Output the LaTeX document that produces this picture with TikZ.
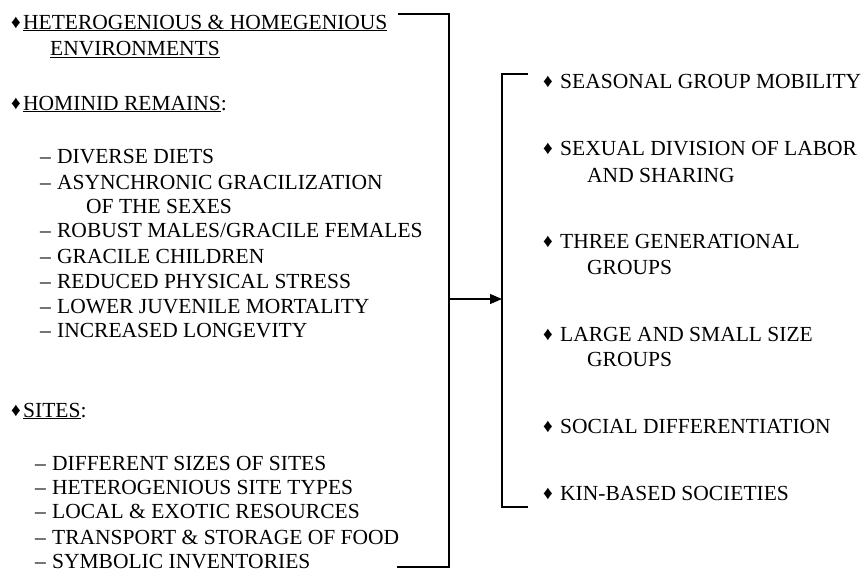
\documentclass[tikz,border=0pt]{standalone}
\usepackage{fontspec}
\setmainfont{Liberation Serif}
\usetikzlibrary{arrows.meta}
\newcommand{\dmd}{\makebox[12pt][l]{\fontsize{19}{19}\selectfont\raisebox{0.5pt}{♦}}}
\newcommand{\rdmd}{\makebox[17pt][l]{\fontsize{19}{19}\selectfont\raisebox{0.5pt}{♦}}}
\newcommand{\dsh}{–\hspace{6.2pt}}

\begin{document}
\begin{tikzpicture}[x=1pt, y=-1pt]
            \tikzstyle{every node} = [anchor=base west, inner sep=0pt,
                font=\fontsize{21.5}{25}\selectfont]
            \tikzstyle{bracket} = [line width=1.1pt]
            \useasboundingbox (0, 0) rectangle (862, 571);

            \node (envA) at (11, 29) {\dmd\underline{HETEROGENIOUS \& HOMEGENIOUS}};
            \node (envB) at (50, 55) {\underline{ENVIRONMENTS}};

            \node (hom) at (11, 110) {\dmd\underline{HOMINID REMAINS}:};
            \node (diet) at (40, 163) {\dsh DIVERSE DIETS};
            \node (asyA) at (40, 189) {\dsh ASYNCHRONIC GRACILIZATION};
            \node (asyB) at (86, 213) {OF THE SEXES};
            \node (rob) at (40, 237) {\dsh ROBUST MALES/GRACILE FEMALES};
            \node (child) at (40, 263) {\dsh GRACILE CHILDREN};
            \node (stress) at (40, 288) {\dsh REDUCED PHYSICAL STRESS};
            \node (mort) at (40, 313) {\dsh LOWER JUVENILE MORTALITY};
            \node (longev) at (40, 337) {\dsh INCREASED LONGEVITY};

            \node (sites) at (11, 417) {\dmd\underline{SITES}:};
            \node (size) at (35, 470) {\dsh DIFFERENT SIZES OF SITES};
            \node (types) at (35, 494) {\dsh HETEROGENIOUS SITE TYPES};
            \node (res) at (35, 518) {\dsh LOCAL \& EXOTIC RESOURCES};
            \node (food) at (35, 544) {\dsh TRANSPORT \& STORAGE OF FOOD};
            \node (symb) at (35, 568) {\dsh SYMBOLIC INVENTORIES};

            \node (mob) at (543, 88) {\rdmd SEASONAL GROUP MOBILITY};
            \node (laborA) at (543, 155) {\rdmd SEXUAL DIVISION OF LABOR};
            \node (laborB) at (587, 182) {AND SHARING};
            \node (genA) at (543, 248) {\rdmd THREE GENERATIONAL};
            \node (genB) at (587, 274) {GROUPS};
            \node (grpA) at (543, 341) {\rdmd LARGE AND SMALL SIZE};
            \node (grpB) at (587, 366) {GROUPS};
            \node (soc) at (543, 433) {\rdmd SOCIAL DIFFERENTIATION};
            \node (kin) at (543, 500) {\rdmd KIN-BASED SOCIETIES};

            \coordinate (ltop) at (398, 14);
            \coordinate (lbot) at (397, 567);
            \coordinate (lmid) at (449, 299);
            \coordinate (rtop) at (528, 74);
            \coordinate (rbot) at (528, 507);
            \coordinate (rmid) at (502, 299);

            \draw[bracket] (ltop) -| (lmid) |- (lbot);
            \draw[bracket] (rtop) -| (rmid) |- (rbot);
            \draw[bracket, -{Triangle[length=12pt, width=10pt]}] (lmid) -- (rmid);
\end{tikzpicture}
\end{document}
